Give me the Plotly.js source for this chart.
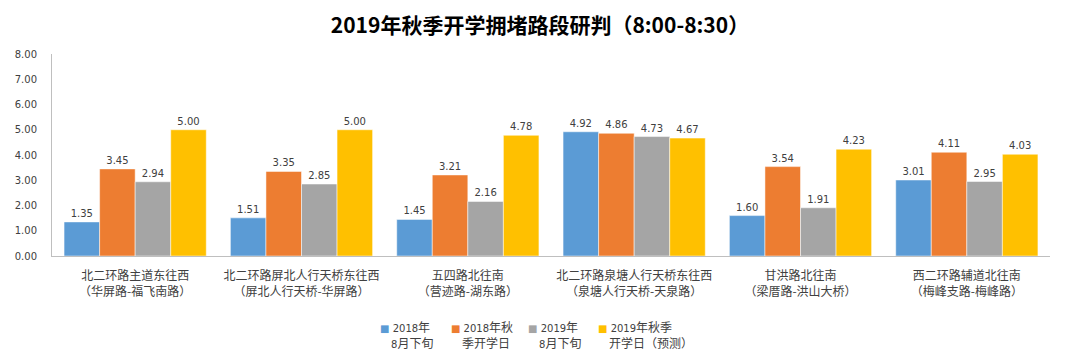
<!DOCTYPE html>
<html>
<head>
<meta charset="utf-8">
<script src="https://cdn.plot.ly/plotly-3.0.1.min.js"></script>
<style>html,body{margin:0;padding:0;background:#fff}#chart{width:1080px;height:361px}</style>
</head>
<body>
<div id="chart"></div>
<script>
const categories = [
  "北二环路主道东往西<br>（华屏路-福飞南路）",
  "北二环路屏北人行天桥东往西<br>（屏北人行天桥-华屏路）",
  "五四路北往南<br>（营迹路-湖东路）",
  "北二环路泉塘人行天桥东往西<br>（泉塘人行天桥-天泉路）",
  "甘洪路北往南<br>（梁厝路-洪山大桥）",
  "西二环路辅道北往南<br>（梅峰支路-梅峰路）"
];
const seriesLine1 = ["2018年", "2018年秋", "2019年", "2019年秋季"];
const seriesLine2 = ["8月下旬", "季开学日", "8月下旬", "开学日（预测）"];
const s2018Aug = [1.35, 1.51, 1.45, 4.92, 1.60, 3.01];
const s2018Open = [3.45, 3.35, 3.21, 4.86, 3.54, 4.11];
const s2019Aug = [2.94, 2.85, 2.16, 4.73, 1.91, 2.95];
const s2019Open = [5.00, 5.00, 4.78, 4.67, 4.23, 4.03];
const colors = ["#5B9BD5", "#ED7D31", "#A5A5A5", "#FFC000"];
const allSeries = [s2018Aug, s2018Open, s2019Aug, s2019Open];

const numFont = "'DejaVu Sans', 'Noto Sans CJK SC', sans-serif";
const cjkFont = "'Noto Sans CJK SC', sans-serif";
const traces = allSeries.map((vals, i) => ({
  type: "bar",
  name: seriesLine1[i] + seriesLine2[i],
  x: categories,
  y: vals,
  marker: {color: colors[i], line: {color: "#ffffff", width: 0.5}},
  text: vals.map(v => v.toFixed(2)),
  textposition: "outside",
  textfont: {size: 10, color: "#404040", family: numFont},
  cliponaxis: false,
  hoverinfo: "none",
  showlegend: false
}));

// digits in a Verdana-like face at 10px, CJK at 12px (as in the reference legend)
const styleDigits = s => s.replace(/([0-9]+)/g, "<span style='font-family:DejaVu Sans;font-size:10px'>$1</span>");
const legendKeys = ["legend", "legend2", "legend3", "legend4"];
allSeries.forEach((vals, i) => {
  const sw = "<span style='font-family:DejaVu Sans;font-size:10px;color:" + colors[i] + "'>■\u00A0</span>";
  const pad = "<span style='font-size:11px'>\u3000</span>";
  traces.push({
    type: "scatter", mode: "markers",
    name: sw + styleDigits(seriesLine1[i]) + "<br>" + pad + styleDigits(seriesLine2[i]),
    x: [null], y: [null],
    marker: {symbol: "square", size: 1, color: "rgba(0,0,0,0)"},
    showlegend: true, hoverinfo: "none",
    legend: legendKeys[i]
  });
});

const legendX = [0.2886, 0.3597, 0.4369, 0.5070];
const legendBase = {
  orientation: "h", xref: "paper", xanchor: "left", yref: "container", y: 0.133, yanchor: "top", valign: "top",
  font: {size: 12, color: "#404040", family: cjkFont}, bgcolor: "rgba(0,0,0,0)", itemwidth: 30
};

const layout = {
  width: 1080, height: 361,
  margin: {l: 52, r: 30, t: 54, b: 105},
  paper_bgcolor: "#fff", plot_bgcolor: "#fff",
  title: {text: "<b>2019年秋季开学拥堵路段研判（8:00-8:30）</b>", x: 0.5, xanchor: "center", y: 0.93, yanchor: "middle",
          font: {size: 21, color: "#000", family: cjkFont}},
  barmode: "group",
  bargap: 0.145,
  bargroupgap: 0,
  showlegend: true,
  xaxis: {showline: true, linecolor: "#BFBFBF", linewidth: 1, ticks: "", showgrid: false, ticklabelstandoff: 9,
          tickfont: {size: 12, color: "#404040", family: cjkFont}, fixedrange: true},
  yaxis: {range: [0, 8], dtick: 1, tickformat: ".2f", showline: true, linecolor: "#BFBFBF", linewidth: 1,
          showgrid: false, zeroline: false, ticks: "", ticklabelstandoff: 12,
          tickfont: {size: 10, color: "#404040", family: numFont}, fixedrange: true}
};
legendKeys.forEach((k, i) => { layout[k] = Object.assign({}, legendBase, {x: legendX[i]}); });

Plotly.newPlot("chart", traces, layout, {displayModeBar: false, staticPlot: true});
</script>
</body>
</html>
